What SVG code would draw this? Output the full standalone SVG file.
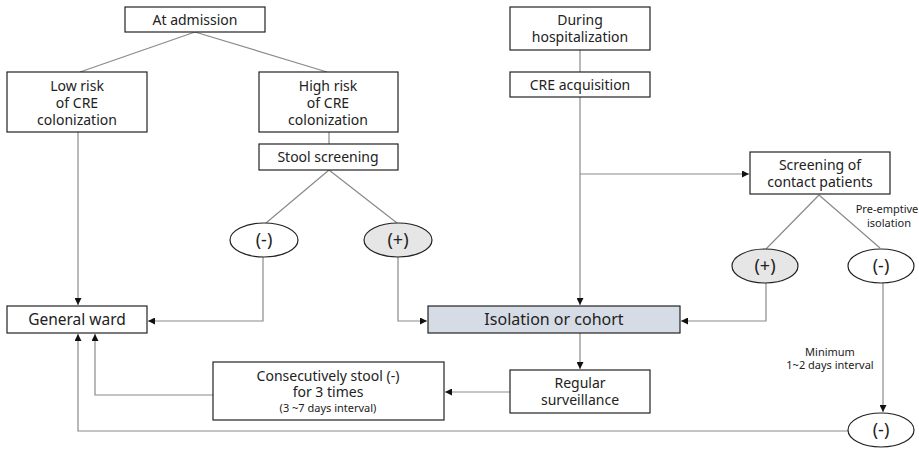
<svg xmlns="http://www.w3.org/2000/svg" width="919" height="450" viewBox="0 0 919 450">
<style>
text{font-family:"Noto Sans","Open Sans",sans-serif;fill:#222;text-anchor:middle}
.t{font-size:14px}
.s{font-size:11px}
.o{font-size:18px}
.b{fill:#fff;stroke:#222;stroke-width:1.2}
.g{fill:#d6dce5}
.e{fill:#fff;stroke:#222;stroke-width:1.2}
.eg{fill:#e6e6e6;stroke:#222;stroke-width:1.2}
.c{fill:none;stroke:#8a8a8a;stroke-width:1.2}
.a{marker-end:url(#ar)}
</style>
<defs>
<marker id="ar" viewBox="0 0 10 10" refX="10" refY="5" markerWidth="7" markerHeight="7" markerUnits="userSpaceOnUse" orient="auto">
<path d="M0,0L10,5L0,10z" fill="#111"/>
</marker>
</defs>
<rect width="919" height="450" fill="#fff"/>
<g id="connectors">
<path class="c" d="M195,32L80,72M195,32L327,72"/>
<path class="c" d="M329,132V144"/>
<path class="c" d="M329,170L266,223M329,170L397,223"/>
<path class="c" d="M580,50V72"/>
<path class="c a" d="M580,97V305"/>
<path class="c a" d="M580,174H749"/>
<path class="c" d="M819,195L766,249M819,195L880,248"/>
<path class="c a" d="M78,132V305"/>
<path class="c a" d="M263,257V321H148"/>
<path class="c a" d="M398,257V321H427"/>
<path class="c a" d="M766,283V321H681"/>
<path class="c a" d="M883,283V412"/>
<path class="c a" d="M580,333V369"/>
<path class="c a" d="M510,392H445"/>
<path class="c a" d="M213,395H95V334"/>
<path class="c a" d="M848,431H78V334"/>
</g>
<g id="n-admission"><rect class="b" x="125" y="7" width="140" height="25"/><text class="t" x="195" y="25">At admission</text></g>
<g id="n-low"><rect class="b" x="7" y="72" width="140" height="60"/><text class="t" x="77" y="91">Low risk</text><text class="t" x="77" y="108">of CRE</text><text class="t" x="77" y="125">colonization</text></g>
<g id="n-high"><rect class="b" x="259" y="72" width="139" height="60"/><text class="t" x="328" y="91">High risk</text><text class="t" x="328" y="108">of CRE</text><text class="t" x="328" y="125">colonization</text></g>
<g id="n-stool"><rect class="b" x="259" y="144" width="139" height="26"/><text class="t" x="328" y="162">Stool screening</text></g>
<g id="n-neg1"><ellipse class="e" cx="264" cy="240" rx="34" ry="17"/><text class="o" x="264" y="246">(-)</text></g>
<g id="n-pos1"><ellipse class="eg" cx="398" cy="240" rx="34" ry="17"/><text class="o" x="398" y="246">(+)</text></g>
<g id="n-during"><rect class="b" x="510" y="7" width="140" height="43"/><text class="t" x="580" y="25">During</text><text class="t" x="580" y="42">hospitalization</text></g>
<g id="n-acq"><rect class="b" x="510" y="72" width="140" height="25"/><text class="t" x="580" y="90">CRE acquisition</text></g>
<g id="n-contact"><rect class="b" x="750" y="152" width="140" height="42"/><text class="t" x="820" y="170">Screening of</text><text class="t" x="820" y="187">contact patients</text></g>
<g id="n-pos2"><ellipse class="eg" cx="765" cy="266" rx="33" ry="17"/><text class="o" x="765" y="272">(+)</text></g>
<g id="n-neg2"><ellipse class="e" cx="881" cy="266" rx="33" ry="17"/><text class="o" x="881" y="272">(-)</text></g>
<text class="s" x="887" y="213">Pre-emptive</text>
<text class="s" x="889" y="227">isolation</text>
<g id="n-general"><rect class="b" x="7" y="306" width="140" height="27"/><text class="t" x="77" y="325" style="font-size:15.5px">General ward</text></g>
<g id="n-isolation"><rect class="b g" x="428" y="306" width="252" height="27"/><text class="t" x="554" y="325" style="font-size:16px">Isolation or cohort</text></g>
<g id="n-regular"><rect class="b" x="510" y="370" width="140" height="43"/><text class="t" x="580" y="388">Regular</text><text class="t" x="580" y="405">surveillance</text></g>
<g id="n-consec"><rect class="b" x="213" y="362" width="231" height="58"/><text class="t" x="328" y="381">Consecutively stool (-)</text><text class="t" x="328" y="397">for 3 times</text><text class="s" x="328" y="412">(3 ~7 days interval)</text></g>
<text class="s" x="830" y="356">Minimum</text>
<text class="s" x="830" y="369">1~2 days interval</text>
<g id="n-neg3"><ellipse class="e" cx="881" cy="430" rx="33" ry="17"/><text class="o" x="881" y="436">(-)</text></g>
</svg>
